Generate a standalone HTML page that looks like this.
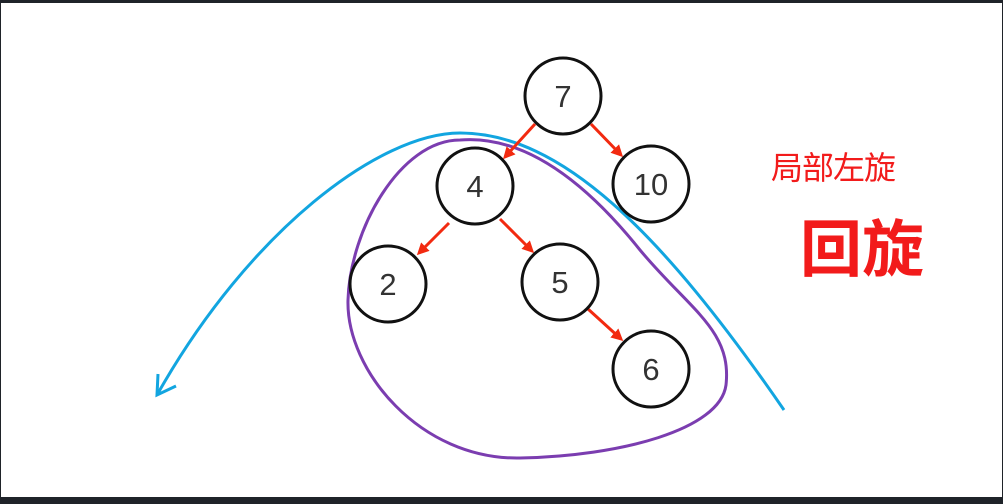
<!DOCTYPE html>
<html><head><meta charset="utf-8"><style>
html,body{margin:0;padding:0;}
body{width:1003px;height:504px;background:#1f2329;position:relative;overflow:hidden;font-family:"Liberation Sans","Noto Sans CJK SC",sans-serif;}
#c{position:absolute;left:1px;top:3px;width:1001px;height:494px;background:#fff;}
.t1{position:absolute;left:771px;top:143px;font-size:32px;color:#f21b1b;font-family:"Noto Sans CJK SC",sans-serif;letter-spacing:-1px;}
.t2{position:absolute;left:800px;top:210px;font-size:62px;font-weight:bold;color:#f21b1b;font-family:"Noto Sans CJK SC",sans-serif;line-height:1.1;}
</style></head><body>
<div id="c"></div>
<svg width="1003" height="504" style="position:absolute;left:0;top:0">
<defs><marker id="a" markerWidth="12" markerHeight="12" refX="9" refY="6" orient="auto" markerUnits="userSpaceOnUse"><path d="M0,0 L12,6 L0,12 z" fill="#f22a10"/></marker></defs>
<path d="M157,395 C250,230 380,133 460,133 C560,133 660,230 784,410" fill="none" stroke="#12a5e0" stroke-width="3"/>
<path d="M158,374 L157,395 L176,386" fill="none" stroke="#12a5e0" stroke-width="3"/>
<path d="M460,140 C400,140 350,230 348,300 C346,370 420,460 520,458 C620,456 720,430 726,385 C732,330 690,310 640,250 C580,175 520,135 460,140 Z" fill="none" stroke="#7b3db0" stroke-width="3"/>
<g stroke="#f22a10" stroke-width="3" marker-end="url(#a)">
<line x1="535" y1="124" x2="505" y2="157"/>
<line x1="591" y1="124" x2="621" y2="155"/>
<line x1="449" y1="223" x2="419" y2="253"/>
<line x1="500" y1="219" x2="532" y2="251"/>
<line x1="588" y1="309" x2="621" y2="339"/>
</g>
<g fill="#fff" stroke="#111" stroke-width="3">
<circle cx="563" cy="96" r="38"/><circle cx="475" cy="186" r="38"/><circle cx="651" cy="184" r="38"/>
<circle cx="388" cy="284" r="38"/><circle cx="560" cy="282" r="38"/><circle cx="651" cy="369" r="38"/>
</g>
<g font-family="Liberation Sans,sans-serif" font-size="31" fill="#333" text-anchor="middle">
<text x="563" y="107">7</text><text x="475" y="197">4</text><text x="651" y="195">10</text>
<text x="388" y="295">2</text><text x="560" y="293">5</text><text x="651" y="380">6</text>
</g>
</svg>
<div class="t1">局部左旋</div>
<div class="t2">回旋</div>
</body></html>
